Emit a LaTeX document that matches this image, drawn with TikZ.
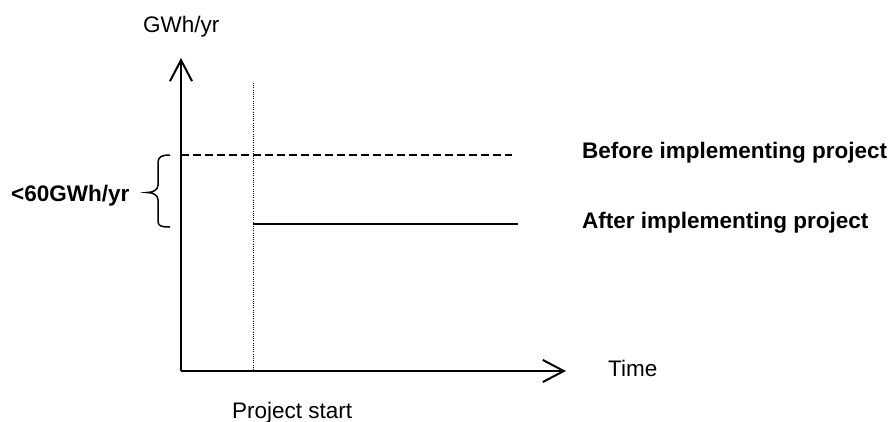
\documentclass[tikz,border=0pt]{standalone}
\usepackage{fontspec}
\setmainfont{Liberation Sans}
\usetikzlibrary{arrows.meta}
\begin{document}
\begin{tikzpicture}[x=1pt,y=-1pt,
  axis/.style={line width=2pt, -{Straight Barb[length=21pt,width=22pt,line width=2pt]}},
  lbl/.style={inner sep=0pt, anchor=base west, font=\fontsize{22.5}{27}\selectfont},
  blbl/.style={inner sep=0pt, anchor=base west, font=\fontsize{22.5}{27}\selectfont\bfseries},
  beforeline/.style={line width=2pt, dash pattern=on 8pt off 4pt},
  afterline/.style={line width=2pt},
  startline/.style={line width=1pt, dash pattern=on 1pt off 1.2pt},
  bracestyle/.style={line width=1.5pt}]
\useasboundingbox (0,0) rectangle (891,421);
% coordinates
\coordinate (O) at (181,371);
\coordinate (Ytip) at (181,58);
\coordinate (Xtip) at (566,371);
\coordinate (S0) at (253,83);
\coordinate (S1) at (253,371);
\coordinate (B0) at (181,155);
\coordinate (B1) at (512,155);
\coordinate (A0) at (253,224);
\coordinate (A1) at (518,224);
% lines
\draw[startline] (S0) -- (S1);
\draw[beforeline] (B0) -- (B1);
\draw[afterline] (A0) -- (A1);
\draw[axis] (O) -- (Ytip);
\draw[axis] (O) -- (Xtip);
% brace
\draw[bracestyle] (170,155) .. controls (161,155) and (158,157) .. (158,163) -- (158,185)
  .. controls (158,190) and (153,192.5) .. (147,192.5)
  .. controls (153,192.5) and (158,195) .. (158,200) -- (158,221)
  .. controls (158,226) and (161,227) .. (170,227);
% labels
\node[lbl] (ylab) at (143,32) {GWh/yr};
\node[blbl] (range) at (11,201) {<60GWh/yr};
\node[lbl] (time) at (608,376) {Time};
\node[lbl] (pstart) at (232,418) {Project start};
\node[blbl] (before) at (582,158) {Before implementing project};
\node[blbl] (after) at (582,228) {After implementing project};
\end{tikzpicture}
\end{document}
